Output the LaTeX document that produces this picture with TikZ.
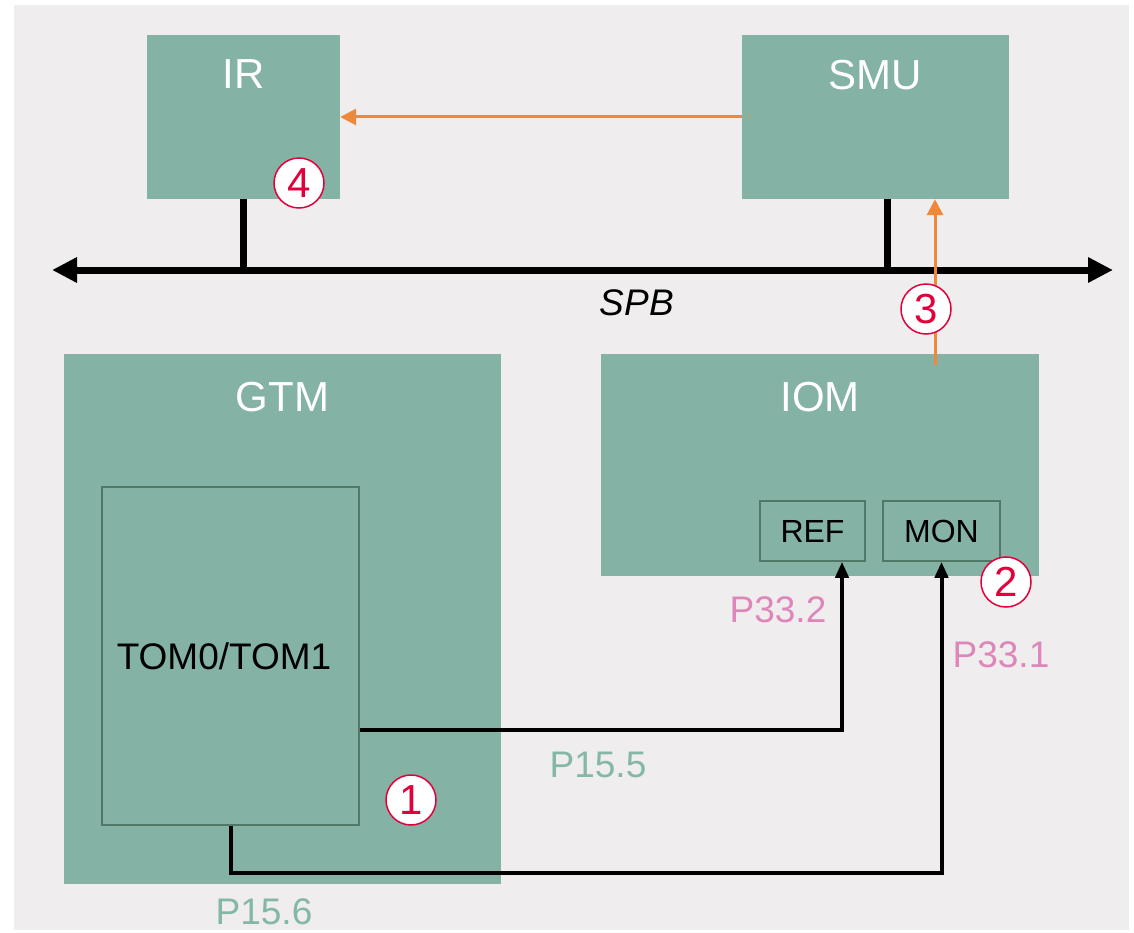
\documentclass[tikz,border=0pt]{standalone}
\usepackage{fontspec}
\setmainfont{Liberation Sans}
\usepackage{tikz}
\usetikzlibrary{arrows.meta,positioning}
\definecolor{Canvas}{HTML}{EFEDEE}
\definecolor{Sage}{HTML}{84B2A5}
\definecolor{SageDark}{HTML}{4F7868}
\definecolor{PinLabel}{HTML}{84B8A5}
\definecolor{PinPink}{HTML}{DE86BA}
\definecolor{Flow}{HTML}{F0883C}
\definecolor{Marker}{HTML}{E2003C}
\newcommand{\bigfont}{\fontsize{42}{48}\selectfont}
\newcommand{\midfont}{\fontsize{37}{42}\selectfont}
\tikzset{
  modbox/.style={fill=Sage, draw=none, rectangle, inner sep=0pt},
  modtitle/.style={anchor=north, inner sep=0pt, text=white, font=\bigfont},
  subbox/.style={fill=Sage, draw=SageDark, line width=1.5pt, rectangle, inner sep=0pt, font=\midfont},
  pinlabel/.style={inner sep=0pt, font=\fontsize{37}{42}\selectfont},
  marker/.style={circle, draw=Marker, fill=white, line width=1.5pt, minimum size=50pt, inner sep=0pt, text=Marker, font=\fontsize{42}{46}\selectfont},
  busline/.style={{Triangle[length=25pt,width=24pt]}-{Triangle[length=25pt,width=24pt]}, line width=7pt},
  busdrop/.style={line width=7pt},
  flowarrow/.style={-{Triangle[length=16pt,width=16pt]}, line width=3pt, draw=Flow},
  sigline/.style={-{Triangle[length=16pt,width=13pt]}, line width=4pt}
}

\begin{document}
\begin{tikzpicture}[x=1pt, y=-1pt]
  \useasboundingbox (0,0) rectangle (1134,933);
  \fill[Canvas] (14,5) rectangle (1129,930);

  % bus masters and bus
  \node[modbox, minimum width=193pt, minimum height=164pt, label={[modtitle, yshift=-25pt]north:IR}] (ir) at (243.5,117) {};
  \node[modbox, minimum width=267pt, minimum height=164pt, label={[modtitle, yshift=-25pt]north:SMU}] (smu) at (875.5,117) {};
  \coordinate (busL) at (52,270);
  \coordinate (busR) at (1113,270);
  \draw[busline] (busL) -- (busR);
  \node[inner sep=0pt, font=\fontsize{37}{42}\selectfont\itshape] (spb) at (637,303) {SPB};
  \draw[busdrop] (ir.south) -- (ir.south |- busL);
  \draw[busdrop] ([xshift=12pt]smu.south) -- ([xshift=12pt]smu.south |- busL);

  % peripheral modules
  \node[modbox, minimum width=437pt, minimum height=530pt, label={[modtitle, yshift=-28pt]north:GTM}] (gtm) at (282.5,619) {};
  \node[subbox, minimum width=257pt, minimum height=338pt] (tom) at (230.5,656) {};
  \node[inner sep=0pt, font=\midfont] (tomtext) at (224,656) {TOM0/TOM1};
  \node[modbox, minimum width=438pt, minimum height=222pt, label={[modtitle, yshift=-28pt]north:IOM}] (iom) at (820,465) {};
  \node[subbox, minimum width=105pt, minimum height=60pt, font=\fontsize{32}{36}\selectfont] (ref) at (812.5,531) {REF};
  \node[subbox, minimum width=117pt, minimum height=60pt, font=\fontsize{32}{36}\selectfont] (mon) at (941.5,531) {MON};

  % signal paths
  \draw[flowarrow] (smu.west) -- (ir.east);
  \coordinate (iomout) at ([xshift=115pt,yshift=-11pt]iom.north);
  \draw[flowarrow] (iomout) -- (iomout |- smu.south);
  \draw[sigline] ([yshift=-74pt]tom.east) -| ([xshift=29.5pt]ref.south);
  \draw[sigline] (tom.south) -- ++(0,47) -| (mon.south);

  % pin names
  \node[pinlabel, text=PinLabel] (p155) at (598,765) {P15.5};
  \node[pinlabel, text=PinLabel] (p156) at (264,912) {P15.6};
  \node[pinlabel, text=PinPink] (p332) at (778,610) {P33.2};
  \node[pinlabel, text=PinPink] (p331) at (1001,655) {P33.1};

  % step markers
  \node[marker] (m1) at (411,800) {1};
  \node[marker] (m2) at (1006,582) {2};
  \node[marker] (m3) at (926,309) {3};
  \node[marker] (m4) at (299,183) {4};
\end{tikzpicture}
\end{document}
